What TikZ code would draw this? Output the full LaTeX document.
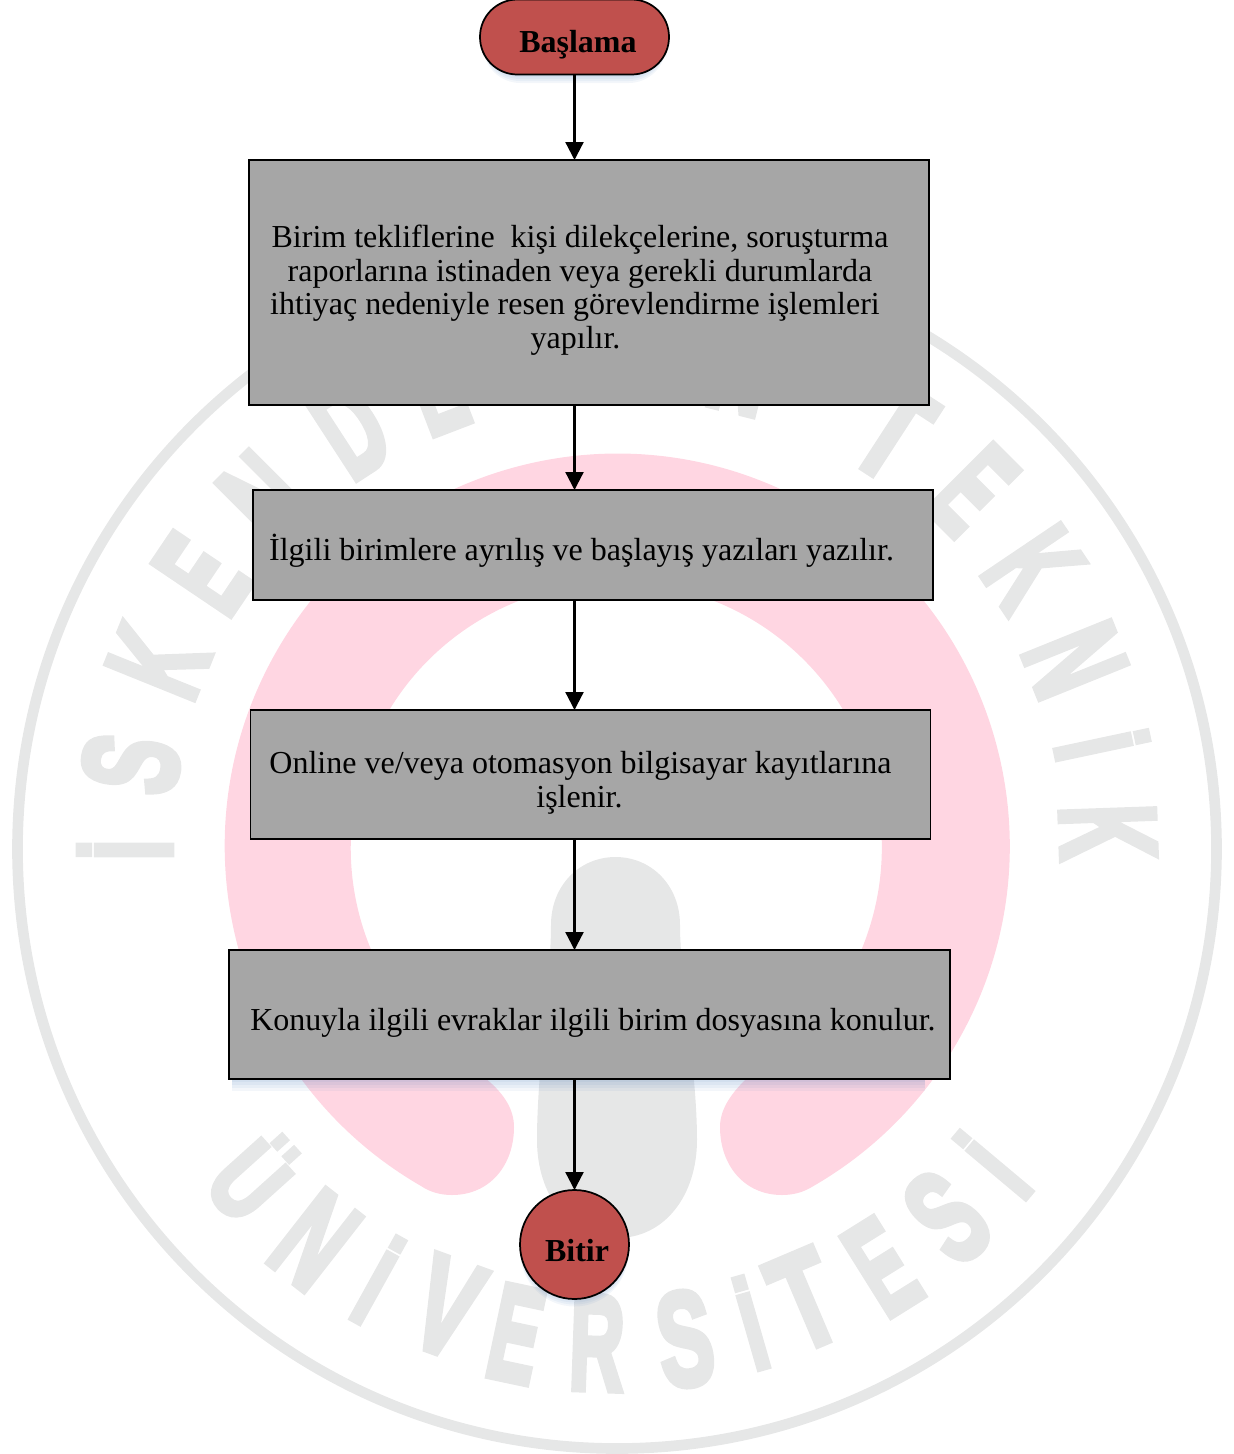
\documentclass[tikz,border=0pt]{standalone}
\usepackage{fontspec}
\usepackage{graphicx}
\setmainfont{Liberation Serif}
\newfontfamily\wmfont[BoldFeatures={FakeBold=5}]{Liberation Sans}
\usetikzlibrary{arrows.meta}

\definecolor{boxgray}{HTML}{A6A6A6}
\definecolor{termred}{HTML}{C0504D}
\definecolor{wmgray}{HTML}{E6E7E7}
\definecolor{wmpink}{HTML}{FFD6E2}
\definecolor{glowblue}{HTML}{4F81BD}

% one line of a box text, moved by dx and dy (pt) from the box centre
\newcommand{\boxline}[3]{\leavevmode\smash{\hbox{\kern#1pt\raise#2pt\hbox{#3}\kern-#1pt}}}

\tikzset{
  boxtext/.style={font=\fontsize{24}{25.1}\selectfont,align=center},
  procbox/.style={draw=black,fill=boxgray,line width=1.3pt,outer sep=0pt,inner sep=0pt,boxtext},
  termbox/.style={draw=black,fill=termred,line width=1.3pt,outer sep=0pt,inner sep=0pt,font=\fontsize{24}{25.1}\selectfont\bfseries},
  flowarrow/.style={draw=black,line width=1.7pt,-{Triangle[length=13.5pt,width=13.5pt]}},
  wmletter/.style={text=wmgray,inner sep=0pt,font=\wmfont\bfseries\fontsize{60}{60}\selectfont}
}

\begin{document}
\begin{tikzpicture}[x=0.75pt,y=-0.75pt]
\useasboundingbox (0,0) rectangle (1234,1454);

% watermark
\draw[wmgray,line width=8pt] (617,849) circle [radius=599.5];
\fill[wmpink] (421,1186) arc [start angle=120,end angle=420,radius=392.5]
  .. controls (804,1192) and (794,1195) .. (782,1195)
  .. controls (744,1195) and (720,1165) .. (720,1127)
  .. controls (720,1110) and (730,1095) .. (745,1080)
  arc [start angle=61,end angle=-241,radius=265.5]
  .. controls (505,1095) and (514,1110) .. (514,1127)
  .. controls (514,1165) and (490,1195) .. (452,1195)
  .. controls (440,1195) and (430,1192) .. (421,1186) -- cycle;
\fill[wmgray] (551,925) .. controls (551,885) and (580,857) .. (615.5,857)
  .. controls (651,857) and (680,885) .. (680,925)
  .. controls (680,980) and (697,1070) .. (697,1140)
  .. controls (697,1195) and (665,1238) .. (617,1238)
  .. controls (569,1238) and (537,1195) .. (537,1140)
  .. controls (537,1070) and (551,980) .. (551,925) -- cycle;

\foreach \ch/\cx/\cy/\rot/\ww [count=\i] in {
  İ/125/850/90/16, S/131/764/80/41, K/158/662/68/41, E/202/574/56/37,
  N/266/500/45/44, D/350/428/33/43, E/435/385/21/37, N/742/365/-14/44,
  T/893/432/-33/43, E/973/490/-45/37, K/1033/568/-56/41, N/1075/660/-68/44,
  İ/1102/745/-78/16, K/1108/832/-88/41,
  Ü/255/1176/-48/43, N/315/1240/-38/44, İ/378/1280/-29/16, V/447/1307/-20/44,
  E/516/1334/-12/37, R/597/1343/-2/41, S/685/1339/8/41, İ/751/1323/16/16,
  T/805/1300/23/43, E/882/1267/32/37, S/947/1217/42/41, İ/993/1165/50/16}
  \node[wmletter,rotate=\rot] (wm\i) at (\cx,\cy) {\resizebox{\ww pt}{70pt}{\ch}};

% soft shadows under the lower box and the two ends
\foreach \s in {2,4,6,8} {
  \fill[glowblue,opacity=0.07,rounded corners=28pt] (483,20) rectangle (666,75+\s);
  \fill[glowblue,opacity=0.07] (574.5,1244.5+\s) circle [radius=54];
}
\foreach \s in {3,6,9,12} {
  \fill[glowblue,opacity=0.07] (232,1070) rectangle (925,1079+\s);
}

% flow
\node[termbox,minimum width=141.75pt,minimum height=56.25pt,rounded corners=28pt] (basla) at (574.5,37) {\boxline{2.6}{-11.25}{Başlama}};
\node[procbox,minimum width=510pt,minimum height=183.75pt] (bildir) at (589,282.5) {\boxline{-6.75}{-11.6}{Birim tekliflerine\ \ kişi dilekçelerine,\ soruşturma}\\
  \boxline{-6.75}{-11.6}{raporlarına istinaden veya gerekli durumlarda}\\
  \boxline{-10.5}{-11.6}{ihtiyaç nedeniyle resen görevlendirme işlemleri}\\
  \boxline{-10.1}{-11.6}{yapılır.}};
\node[procbox,minimum width=510pt,minimum height=82.5pt] (yazi) at (593,545) {\boxline{-8.6}{-11.6}{İlgili birimlere ayrılış ve başlayış yazıları yazılır.}};
\node[procbox,minimum width=510pt,minimum height=96.75pt] (kayit) at (590.5,774.5) {\boxline{-7.5}{-12}{Online ve/veya otomasyon bilgisayar kayıtlarına}\\
  \boxline{-8.25}{-12}{işlenir.}};
\node[procbox,minimum width=540.75pt,minimum height=96.75pt] (dosya) at (589.5,1014.5) {\boxline{2.6}{-12}{Konuyla ilgili evraklar ilgili birim dosyasına konulur.}};
\node[termbox,circle,minimum size=81.75pt] (bitir) at (574.5,1244.5) {\boxline{1.9}{-12.4}{Bitir}};

\draw[flowarrow] (basla) -- (basla |- bildir.north);
\draw[flowarrow] (bildir.south -| basla) -- (basla |- yazi.north);
\draw[flowarrow] (yazi.south -| basla) -- (basla |- kayit.north);
\draw[flowarrow] (kayit.south -| basla) -- (basla |- dosya.north);
\draw[flowarrow] (dosya.south -| basla) -- (bitir);

\end{tikzpicture}
\end{document}
